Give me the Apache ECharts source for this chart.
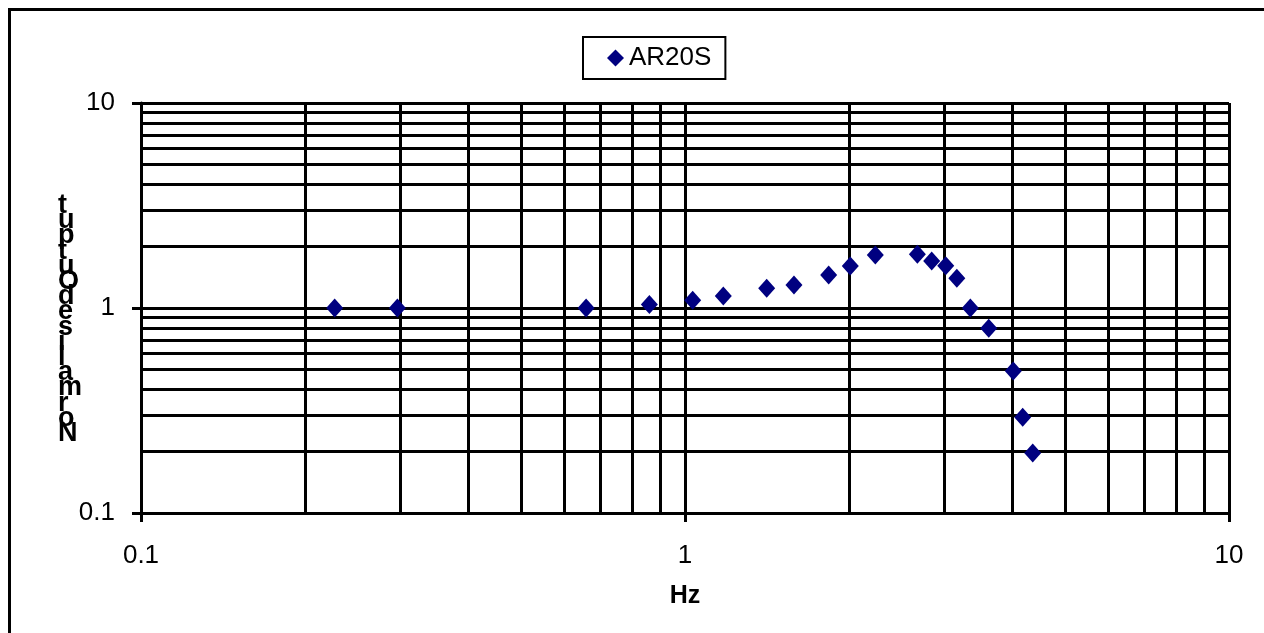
<!DOCTYPE html>
<html>
<head>
<meta charset="utf-8">
<script src="https://cdn.jsdelivr.net/npm/echarts@6/dist/echarts.min.js"></script>
<style>
html,body{margin:0;padding:0;background:#fff;}
#chart{width:1264px;height:633px;}
</style>
</head>
<body>
<div id="chart"></div>
<script>
// Data
const seriesName = 'AR20S';
const freqHz = [0.227, 0.296, 0.658, 0.86, 1.033, 1.176, 1.413, 1.586, 1.837, 2.013, 2.238, 2.674, 2.841, 3.015, 3.16, 3.346, 3.617, 4.013, 4.176, 4.357];
const normOutput = [1.0, 1.0, 1.0, 1.04, 1.09, 1.144, 1.248, 1.294, 1.449, 1.603, 1.814, 1.828, 1.695, 1.608, 1.396, 1.0, 0.796, 0.493, 0.293, 0.196];
const minorX = [0.2, 0.3, 0.4, 0.5, 0.6, 0.7, 0.8, 0.9, 2, 3, 4, 5, 6, 7, 8, 9];
const minorY = [0.2, 0.3, 0.4, 0.5, 0.6, 0.7, 0.8, 0.9, 2, 3, 4, 5, 6, 7, 8, 9];
const xTitle = 'Hz';
const yTitle = 'Normalised Output';

const chart = echarts.init(document.getElementById('chart'), null, {renderer: 'canvas'});
const font = '"Liberation Sans", Arial, sans-serif';
const points = freqHz.map((x, i) => [x, normOutput[i]]);
const gridLineStyle = {color: '#000', width: 3, type: 'solid', opacity: 1};

const minorLines = minorX.map(v => ({xAxis: v})).concat(minorY.map(v => ({yAxis: v})));

chart.setOption({
  animation: false,
  backgroundColor: '#fff',
  grid: {left: 141, right: 35, top: 103, bottom: 120, containLabel: false},
  legend: {
    left: 583, top: 37,
    data: [{name: seriesName, icon: 'diamond'}],
    itemWidth: 17, itemHeight: 17, itemGap: 5,
    padding: [8, 14, 8, 24],
    borderColor: '#000', borderWidth: 2,
    textStyle: {fontFamily: font, fontSize: 26, color: '#000'}
  },
  xAxis: {
    type: 'log', logBase: 10, min: 0.1, max: 10,
    name: xTitle, nameLocation: 'middle', nameGap: 71,
    nameTextStyle: {fontFamily: font, fontSize: 25, fontWeight: 'bold', color: '#000'},
    axisLine: {show: true, lineStyle: {color: '#000', width: 3}},
    axisTick: {show: true, length: 9, lineStyle: {color: '#000', width: 3}},
    axisLabel: {fontFamily: font, fontSize: 26, color: '#000', margin: 30,
      formatter: v => (v < 1 ? v.toFixed(1) : String(Math.round(v)))},
    splitLine: {show: true, lineStyle: gridLineStyle}
  },
  yAxis: {
    type: 'log', logBase: 10, min: 0.1, max: 10,
    axisLine: {show: true, lineStyle: {color: '#000', width: 3}},
    axisTick: {show: true, length: 9, lineStyle: {color: '#000', width: 3}},
    axisLabel: {fontFamily: font, fontSize: 26, color: '#000', margin: 26,
      formatter: v => (v < 1 ? v.toFixed(1) : String(Math.round(v)))},
    splitLine: {show: true, lineStyle: gridLineStyle}
  },
  graphic: [
    {type: 'line', silent: true, shape: {x1: 8, y1: 9.5, x2: 1264, y2: 9.5}, style: {stroke: '#000', lineWidth: 3}},
    {type: 'line', silent: true, shape: {x1: 9.5, y1: 8, x2: 9.5, y2: 633}, style: {stroke: '#000', lineWidth: 3}},
    {type: 'text', silent: true, left: 58, top: 192,
      style: {text: yTitle.replace(/\s/g, '').split('').reverse().join('\n'),
        fontFamily: font, fontSize: 27, fontWeight: 'bold', fill: '#000',
        lineHeight: 15.2, align: 'center', width: 26}}
  ],
  series: [
    {
      name: '_grid', type: 'line', data: [], silent: true, z: 1,
      markLine: {silent: true, symbol: ['none', 'none'], animation: false,
        label: {show: false}, lineStyle: gridLineStyle, emphasis: {disabled: true},
        data: minorLines}
    },
    {
      name: seriesName, type: 'scatter', data: points, z: 5,
      symbol: 'diamond', symbolSize: [17, 19],
      itemStyle: {color: '#000080', opacity: 1}
    }
  ]
});
</script>
</body>
</html>
